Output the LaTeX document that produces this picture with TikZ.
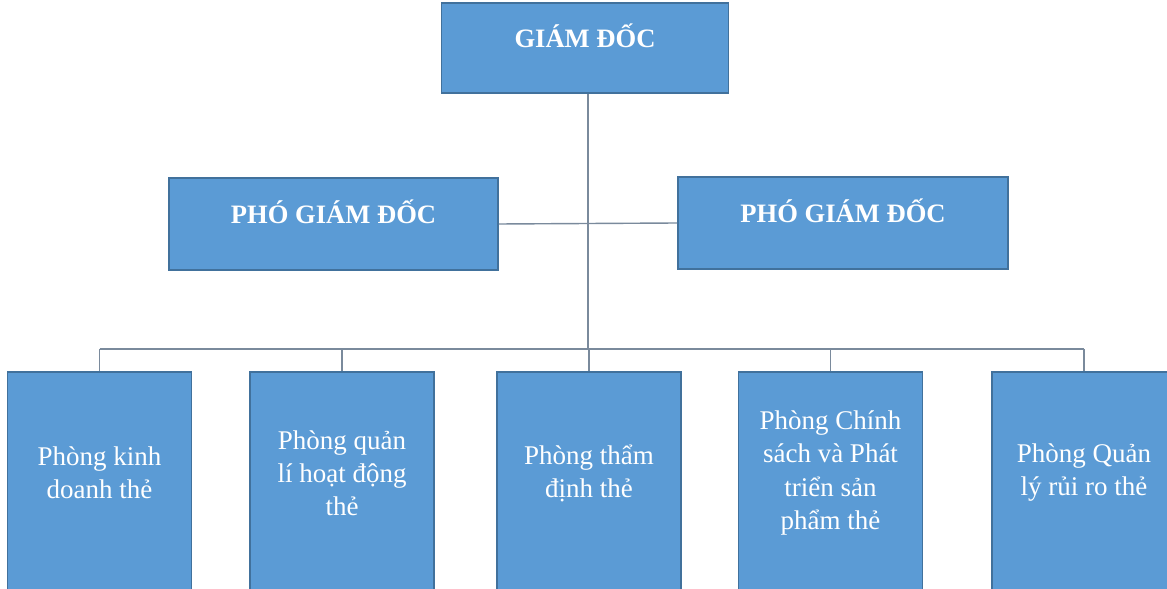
\documentclass[tikz,border=0pt]{standalone}
\usepackage{fontspec}
\setmainfont{Liberation Serif}
\tikzset{>=latex}
\definecolor{boxblue}{HTML}{5B9BD5}
\definecolor{boxedge}{HTML}{41719C}
\definecolor{wire}{HTML}{7A8A9C}
\tikzstyle{unit}=[draw=boxedge,fill=boxblue,line width=1.2pt,inner sep=0pt]
\tikzstyle{chief}=[font=\bfseries\fontsize{18.9}{22}\selectfont,text=white,text height=0.7em,text depth=0.7em]
\tikzstyle{dept}=[font=\fontsize{19.2}{23.5}\selectfont,text=white,align=center]
\tikzstyle{link}=[wire,line width=1pt]

\begin{document}
\begin{tikzpicture}[x=0.025cm,y=-0.025cm]
  \clip (0,0) rectangle (1167,589);
  \def\ytop{371}
  \def\ytext{473}
  % board
  \node[unit,chief,minimum width=7.175cm,minimum height=2.25cm] (gd) at (585,48) {GIÁM ĐỐC};
  \node[unit,chief,minimum width=8.225cm,minimum height=2.3cm] (pgdL) at (333.5,224) {PHÓ GIÁM ĐỐC};
  \node[unit,chief,minimum width=8.25cm,minimum height=2.3cm] (pgdR) at (843,223) {PHÓ GIÁM ĐỐC};
  % departments
  \foreach \n/\xc in {1/99.5,2/342,3/589,4/830.5,5/1084}
    \node[unit,anchor=north,minimum width=4.6cm,minimum height=5.8cm] (p\n) at (\xc,\ytop) {};
  \node[dept] (t1) at (99.5,\ytext) {Phòng kinh\\doanh thẻ};
  \node[dept] (t2) at (342,\ytext) {Phòng quản\\lí hoạt động\\thẻ};
  \node[dept] (t3) at (589,\ytext) {Phòng thẩm\\định thẻ};
  \node[dept] (t4) at (830.5,\ytext) {Phòng Chính\\sách và Phát\\triển sản\\phẩm thẻ};
  \node[dept] (t5) at (1084,\ytext) {Phòng Quản\\lý rủi ro thẻ};
  % connectors
  \coordinate (hub) at (588,349);
  \draw[link] (gd.south -| hub) -- (hub);
  \draw[link] (pgdL.east) -- (pgdR.west);
  \draw[link] (p1.north |- hub) -- (p5.north |- hub);
  \foreach \n in {1,...,5}
    \draw[link] (p\n.north |- hub) -- (p\n.north);
\end{tikzpicture}
\end{document}
